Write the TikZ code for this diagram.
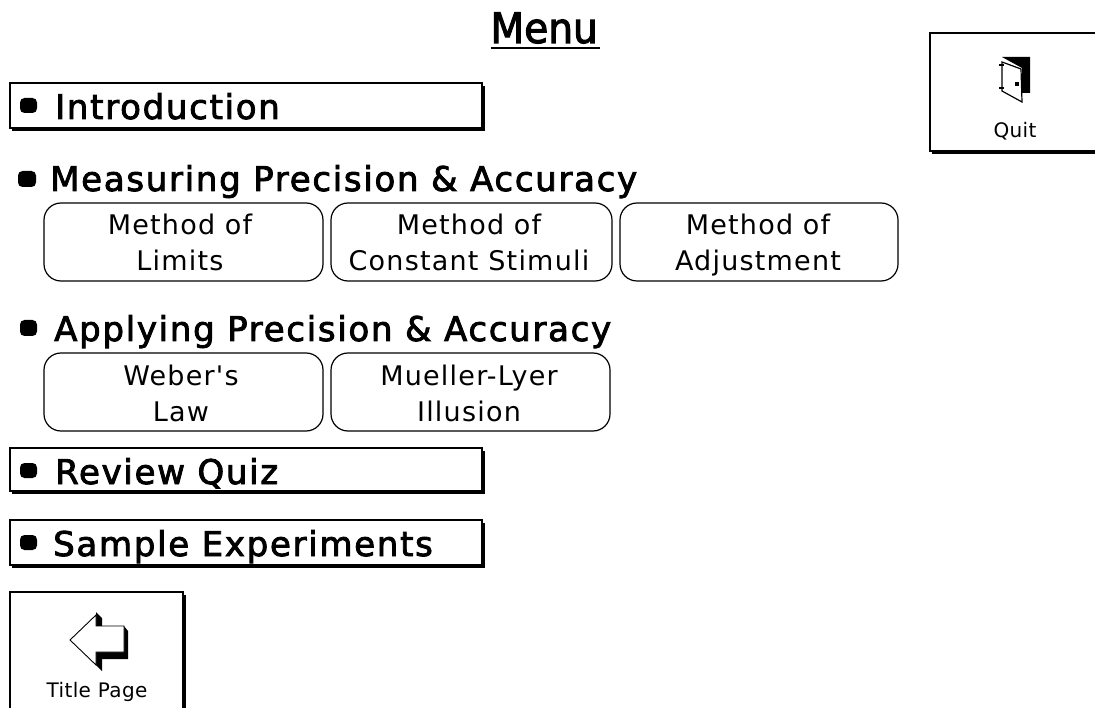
\documentclass[tikz,border=0pt]{standalone}
\usepackage{fontspec}
\setmainfont{DejaVu Sans}
\newfontfamily\headfont[LetterSpace=5,FakeBold=2.5]{DejaVu Sans}
\newfontfamily\menufont[FakeStretch=0.93,FakeBold=2.5]{DejaVu Sans}
\newfontfamily\subfont[LetterSpace=4.5]{DejaVu Sans}
\newfontfamily\smallfont[LetterSpace=2]{DejaVu Sans}
\newcommand{\twostrut}{\rule[-8pt]{0pt}{36pt}}
\begin{document}
\begin{tikzpicture}[x=1pt,y=-1pt,
  barbox/.style={draw=black,line width=1.4pt,fill=white},
  barshadow/.style={draw=none,fill=black},
  pill/.style={draw=black,line width=1.2pt,rounded corners=17pt,fill=white},
  headtext/.style={anchor=base west,inner sep=0pt,font=\headfont\fontsize{34}{34}\selectfont},
  subtext/.style={align=center,inner sep=0pt,font=\subfont\fontsize{27}{36}\selectfont},
  smalltext/.style={anchor=base,inner sep=0pt,font=\smallfont\fontsize{20}{20}\selectfont},
  dot/.style={draw=none,fill=black,rounded corners=4.5pt}]
\useasboundingbox (0,0) rectangle (1095,708);
\node[anchor=base east,inner sep=0pt,font=\menufont\fontsize{42}{42}\selectfont] (menu) at (598,43) {Menu};
\draw[line width=2pt] (491,48) -- (600,48);
% bars
\foreach \n/\t/\b/\dy/\lab/\lx in {intro/83/128/119/Introduction/55,quiz/448/491/484/Review Quiz/55,samp/520/565/556/Sample Experiments/53}{
  \fill[barshadow] (12,\t+3) rectangle (485,\b+3);
  \draw[barbox] (10,\t) rectangle (482,\b);
  \fill[dot] (20,\dy-21) rectangle (37,\dy-6);
  \node[headtext] (\n) at (\lx,\dy) {\lab};
}
% headings
\fill[dot] (18,171) rectangle (36,187);
\node[headtext] (meas) at (50,191) {Measuring Precision \& Accuracy};
\fill[dot] (20,320) rectangle (37,336);
\node[headtext] (appl) at (54,341) {Applying Precision \& Accuracy};
% pills
\draw[pill] (44,203) rectangle (323,281);
\node[subtext] (ml) at (180,243) {\twostrut Method of\\\twostrut Limits};
\draw[pill] (331,203) rectangle (612,281);
\node[subtext] (mc) at (469,243) {\twostrut Method of\\\twostrut Constant Stimuli};
\draw[pill] (620,203) rectangle (898,281);
\node[subtext] (ma) at (758,243) {\twostrut Method of\\\twostrut Adjustment};
\draw[pill] (44,353) rectangle (323,431);
\node[subtext] (wl) at (181,393) {\twostrut Weber's\\\twostrut Law};
\draw[pill] (331,353) rectangle (610,431);
\node[subtext] (mu) at (469,393) {\twostrut Mueller-Lyer\\\twostrut Illusion};
% quit
\fill[barshadow] (932,36) rectangle (1095,154);
\draw[barbox] (930,33) rectangle (1097,151);
\node[smalltext] (quit) at (1015,138) {Quit};
\fill[black] (1002,57) -- (1030,57) -- (1030,93) -- (1022,93) -- (1022,68) -- cycle;
\draw[line width=1.2pt,fill=white] (1002,62) -- (1021,69) -- (1022,102) -- (1002,91) -- cycle;
\fill[black] (1015,82) rectangle (1019,86);
\draw[line width=1.3pt] (999,65) -- (1004,65) (999,88) -- (1004,88);
% title page
\fill[barshadow] (12,595) rectangle (186,708);
\draw[barbox] (10,592) rectangle (183,710);
\node[smalltext] (tp) at (97,697) {Title Page};
\fill[black] (96,612) -- (102,618) -- (102,626) -- (124,626) -- (128,631) -- (128,659) -- (102,659) -- (102,671) -- (96,665) -- cycle;
\draw[line width=0.9pt,fill=white] (96,615) -- (70,640) -- (96,665) -- (96,652) -- (124,652) -- (124,626) -- (96,626) -- cycle;
\end{tikzpicture}
\end{document}
